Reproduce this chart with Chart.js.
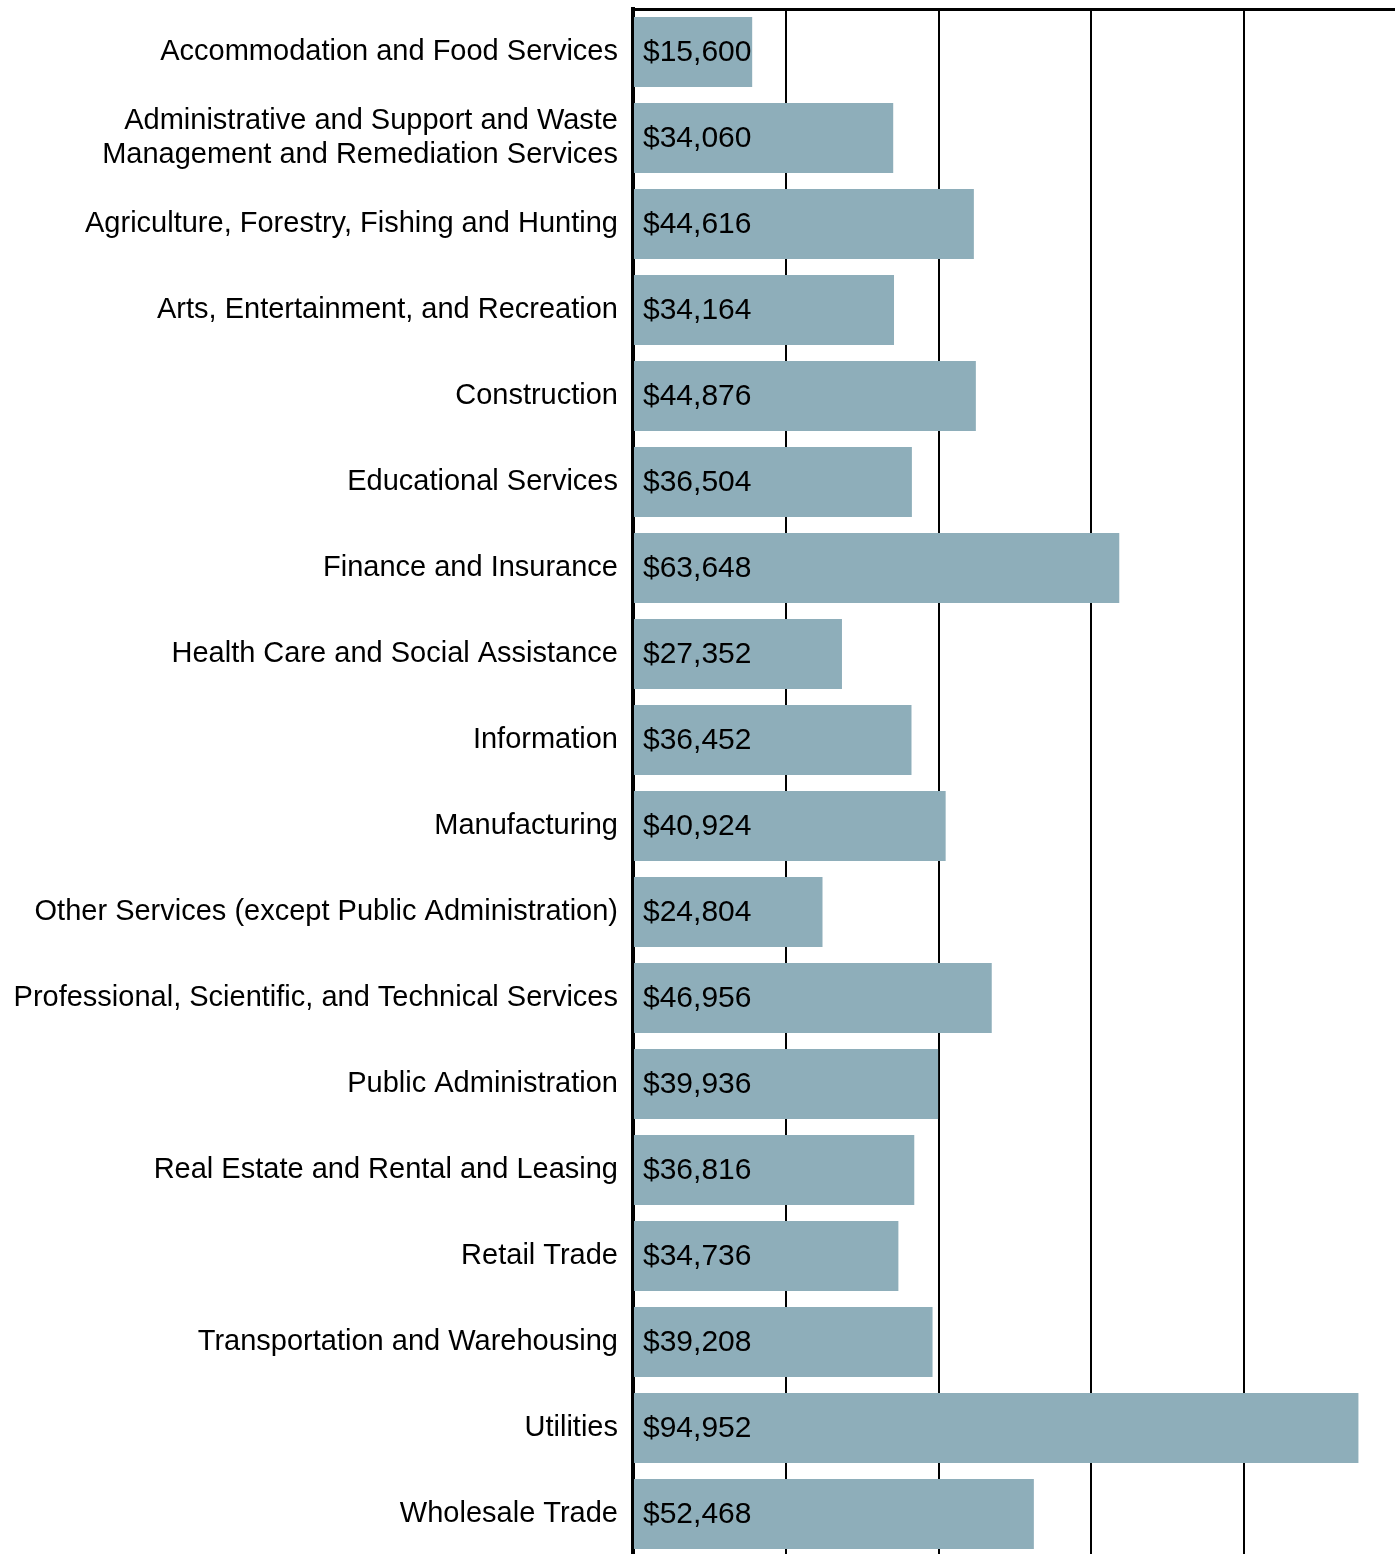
<!DOCTYPE html>
<html>
<head>
<meta charset="utf-8">
<script src="https://cdn.jsdelivr.net/npm/chart.js@4/dist/chart.umd.min.js"></script>
<style>
  html, body { margin: 0; padding: 0; background: #ffffff; overflow: hidden; }
  #wrap { width: 1397px; height: 1560px; }
</style>
</head>
<body>
<div id="wrap"><canvas id="chart" width="1397" height="1560"></canvas></div>
<script>
// Industries (multi-line where the label wraps)
const industries = [
  "Accommodation and Food Services",
  ["Administrative and Support and Waste", "Management and Remediation Services"],
  "Agriculture, Forestry, Fishing and Hunting",
  "Arts, Entertainment, and Recreation",
  "Construction",
  "Educational Services",
  "Finance and Insurance",
  "Health Care and Social Assistance",
  "Information",
  "Manufacturing",
  "Other Services (except Public Administration)",
  "Professional, Scientific, and Technical Services",
  "Public Administration",
  "Real Estate and Rental and Leasing",
  "Retail Trade",
  "Transportation and Warehousing",
  "Utilities",
  "Wholesale Trade"
];

// Average annual earnings by industry, in dollars
const earnings = [
  15600, 34060, 44616, 34164, 44876, 36504, 63648, 27352, 36452,
  40924, 24804, 46956, 39936, 36816, 34736, 39208, 94952, 52468
];

// Earnings axis range
const axisMin = 0;
const axisMax = 100000;
const axisStep = 20000;

Chart.defaults.font.family = "'Liberation Sans', Arial, Helvetica, sans-serif";
Chart.defaults.color = "#000000";

const fmt = v => "$" + v.toLocaleString("en-US");

// Writes each bar's dollar amount just inside its left end
const valueLabels = {
  id: "valueLabels",
  afterDatasetsDraw(chart) {
    const ctx = chart.ctx;
    const meta = chart.getDatasetMeta(0);
    ctx.save();
    ctx.font = "30px 'Liberation Sans', Arial, sans-serif";
    ctx.fillStyle = "#000000";
    ctx.textAlign = "left";
    ctx.textBaseline = "middle";
    meta.data.forEach((bar, i) => {
      const v = chart.data.datasets[0].data[i];
      ctx.fillText(fmt(v), bar.base + 9, bar.y + 1);
    });
    ctx.restore();
  }
};

new Chart(document.getElementById("chart"), {
  type: "bar",
  data: {
    labels: industries,
    datasets: [{
      data: earnings,
      backgroundColor: "#8EAEBA",
      borderWidth: 0,
      categoryPercentage: 1.0,
      barPercentage: 70 / 86
    }]
  },
  options: {
    indexAxis: "y",
    responsive: false,
    devicePixelRatio: 1,
    animation: false,
    layout: { padding: { top: 9, bottom: 3, left: 0, right: 0 } },
    plugins: {
      legend: { display: false },
      tooltip: { enabled: false }
    },
    scales: {
      x: {
        position: "top",
        min: axisMin,
        max: axisMax,
        ticks: { display: false, stepSize: axisStep },
        grid: { color: "#000000", lineWidth: 2, drawTicks: false },
        border: { display: true, color: "#000000", width: 3 },
        afterFit(scale) {
          scale.height = 0;
          scale.paddingLeft = 0;
          scale.paddingRight = 0;
        }
      },
      y: {
        ticks: {
          padding: 15,
          font: { size: 29, lineHeight: 1.14 },
          color: "#000000"
        },
        grid: { display: false, drawTicks: false },
        border: { display: true, color: "#000000", width: 4 },
        afterFit(scale) {
          scale.width = 633;
          scale.paddingTop = 0;
          scale.paddingBottom = 0;
        }
      }
    }
  },
  plugins: [valueLabels]
});
</script>
</body>
</html>
